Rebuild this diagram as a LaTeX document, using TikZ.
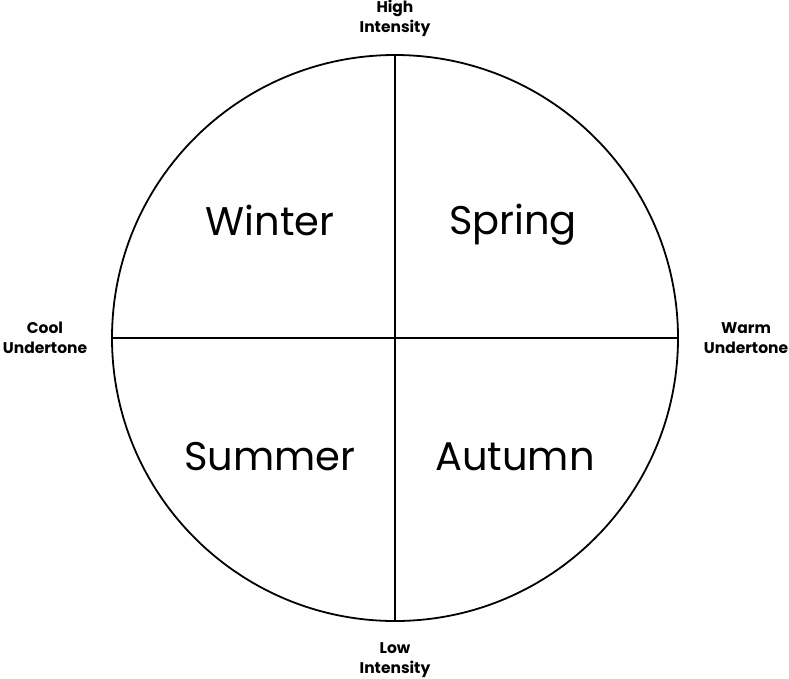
\documentclass[tikz,border=0pt]{standalone}
\usepackage{fontspec}
\setmainfont{Poppins}
\usetikzlibrary{positioning}

\begin{document}
\begin{tikzpicture}[x=1pt,y=-1pt]
\tikzstyle{season}=[font=\fontsize{40}{44}\selectfont, anchor=base]
\tikzstyle{axislbl}=[font=\bfseries\fontsize{15.5}{19.5}\selectfont, align=center, anchor=base]
\tikzstyle{ln}=[line width=1.8pt, draw=black]
\useasboundingbox (0,0) rectangle (789,678);
\coordinate (c) at (395,338);
\coordinate (top) at (395,55);
\coordinate (bot) at (395,621);
\coordinate (lft) at (112,338);
\coordinate (rgt) at (678,338);
\draw [ln] (c) circle (283);
\draw [ln] (top) -- (bot);
\draw [ln] (lft) -- (rgt);
\node (winter) [season] at (270,235) {Winter};
\node (spring) [season] at (513,234) {Spring};
\node (summer) [season] at (270,470) {Summer};
\node (autumn) [season] at (515,470) {Autumn};
\node (high) [axislbl] at (395,32) {High\\Intensity};
\node (low) [axislbl] at (395,673) {Low\\Intensity};
\node (cool) [axislbl] at (45,353) {Cool\\Undertone};
\node (warm) [axislbl] at (746,353) {Warm\\Undertone};
\end{tikzpicture}
\end{document}
